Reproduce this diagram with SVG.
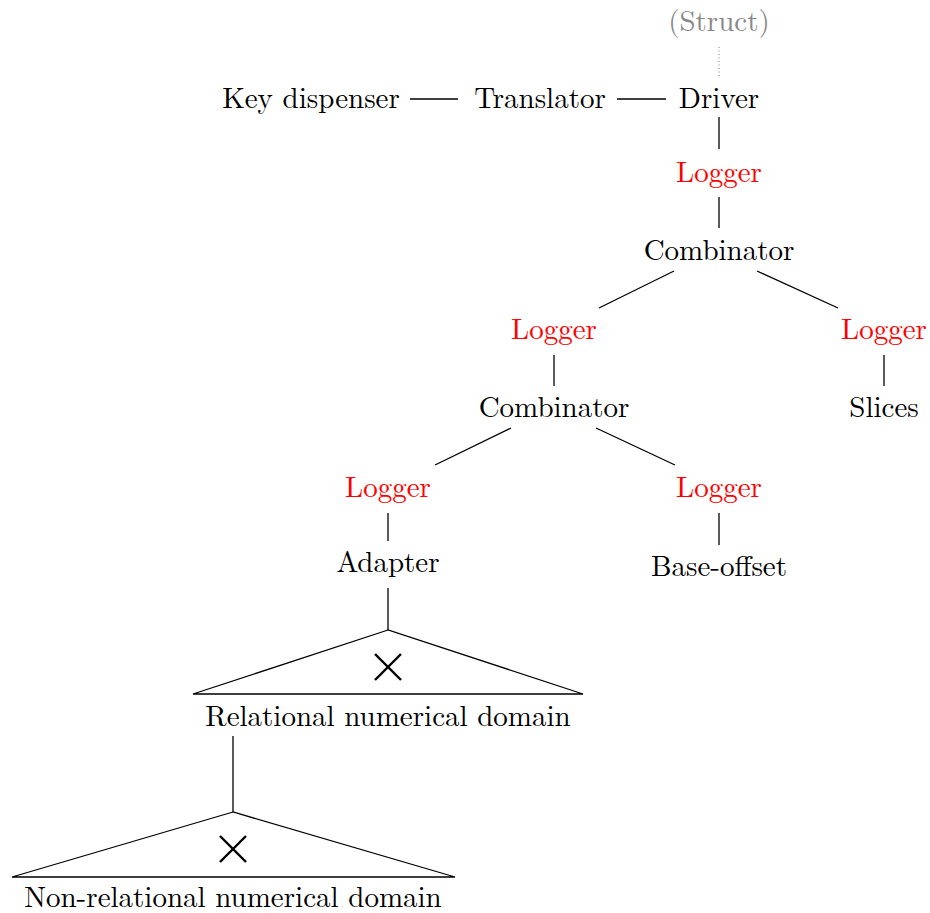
<svg xmlns="http://www.w3.org/2000/svg" width="930" height="913" viewBox="0 0 930 913">
<style>
text{font-family:"Latin Modern Roman","CMU Serif","Liberation Serif","DejaVu Serif",serif;font-size:29px;text-anchor:middle;fill:#000}
.red{fill:#ff0000}
.gray{fill:#888888}
.c line,.c polyline{stroke:#000;stroke-width:1.3;fill:none}
.x line{stroke:#000;stroke-width:2.4}
</style>
<rect width="930" height="913" fill="#fff"/>
<g class="c" id="connectors">
<line x1="719" y1="47" x2="719" y2="76" stroke-dasharray="1 2.5" style="stroke:#999"/>
<line x1="410" y1="99" x2="458" y2="99"/>
<line x1="617" y1="99" x2="666" y2="99"/>
<line x1="719" y1="117" x2="719" y2="149"/>
<line x1="719" y1="197" x2="719" y2="228"/>
<line x1="674" y1="271" x2="599" y2="308"/>
<line x1="757" y1="271" x2="838" y2="308"/>
<line x1="554" y1="355" x2="554" y2="386"/>
<line x1="884" y1="355" x2="884" y2="386"/>
<line x1="511" y1="428" x2="435" y2="465"/>
<line x1="596" y1="428" x2="675" y2="465"/>
<line x1="388" y1="513" x2="388" y2="541"/>
<line x1="719" y1="513" x2="719" y2="545"/>
<line x1="388" y1="588" x2="388" y2="630"/>
<line x1="233" y1="736" x2="233" y2="812"/>
</g>
<g id="struct"><text class="gray" x="719" y="31">(Struct)</text></g>
<g id="key"><text x="311" y="108">Key dispenser</text></g>
<g id="translator"><text x="540" y="108">Translator</text></g>
<g id="driver"><text x="719" y="108">Driver</text></g>
<g id="logger1"><text class="red" x="719" y="182">Logger</text></g>
<g id="comb1"><text x="719" y="260">Combinator</text></g>
<g id="logger2"><text class="red" x="554" y="339">Logger</text></g>
<g id="logger3"><text class="red" x="884" y="339">Logger</text></g>
<g id="comb2"><text x="554" y="417">Combinator</text></g>
<g id="slices"><text x="884" y="417">Slices</text></g>
<g id="logger4"><text class="red" x="388" y="497">Logger</text></g>
<g id="logger5"><text class="red" x="719" y="497">Logger</text></g>
<g id="adapter"><text x="388" y="572">Adapter</text></g>
<g id="baseoffset"><text x="719" y="576">Base-offset</text></g>
<g id="relational">
<polygon points="388,630 193,694 583,694" fill="none" stroke="#000" stroke-width="1.3"/>
<g class="x"><line x1="375" y1="654" x2="401" y2="680"/><line x1="401" y1="654" x2="375" y2="680"/></g>
<text x="388" y="726">Relational numerical domain</text>
</g>
<g id="nonrelational">
<polygon points="233,812 12,877 455,877" fill="none" stroke="#000" stroke-width="1.3"/>
<g class="x"><line x1="220" y1="836" x2="246" y2="862"/><line x1="246" y1="836" x2="220" y2="862"/></g>
<text x="233" y="907">Non-relational numerical domain</text>
</g>
</svg>
